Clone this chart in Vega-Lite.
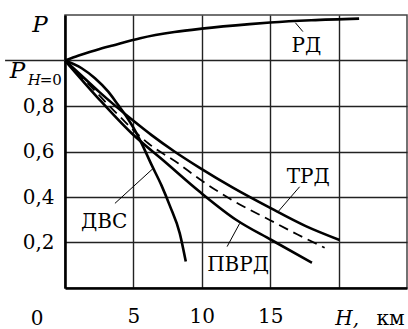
{
  "$schema": "https://vega.github.io/schema/vega-lite/v6.json",
  "width": 342,
  "height": 273,
  "autosize": "none",
  "padding": {"left": 65, "top": 15, "right": 1, "bottom": 41},
  "background": "white",
  "config": {
    "view": {"stroke": "#444", "strokeWidth": 1.5}
  },
  "datasets": {
    "curves": [
      {"series": "РД", "h": 0, "p": 1.0},
      {"series": "РД", "h": 1, "p": 1.022},
      {"series": "РД", "h": 2.3, "p": 1.046},
      {"series": "РД", "h": 3.5, "p": 1.066},
      {"series": "РД", "h": 5.5, "p": 1.098},
      {"series": "РД", "h": 8, "p": 1.125},
      {"series": "РД", "h": 10, "p": 1.14},
      {"series": "РД", "h": 13.5, "p": 1.16},
      {"series": "РД", "h": 15, "p": 1.167},
      {"series": "РД", "h": 18, "p": 1.177},
      {"series": "РД", "h": 21.5, "p": 1.184},
      {"series": "ДВС", "h": 0, "p": 1.0},
      {"series": "ДВС", "h": 1.22, "p": 0.966},
      {"series": "ДВС", "h": 2.19, "p": 0.922},
      {"series": "ДВС", "h": 3.16, "p": 0.863},
      {"series": "ДВС", "h": 3.89, "p": 0.804},
      {"series": "ДВС", "h": 4.5, "p": 0.753},
      {"series": "ДВС", "h": 5.0, "p": 0.705},
      {"series": "ДВС", "h": 5.6, "p": 0.636},
      {"series": "ДВС", "h": 6.33, "p": 0.541},
      {"series": "ДВС", "h": 7.06, "p": 0.45},
      {"series": "ДВС", "h": 7.66, "p": 0.362},
      {"series": "ДВС", "h": 8.39, "p": 0.24},
      {"series": "ДВС", "h": 8.83, "p": 0.116},
      {"series": "ТРД", "h": 0, "p": 1.0},
      {"series": "ТРД", "h": 1, "p": 0.945},
      {"series": "ТРД", "h": 2.5, "p": 0.862},
      {"series": "ТРД", "h": 5, "p": 0.735},
      {"series": "ТРД", "h": 6.33, "p": 0.672},
      {"series": "ТРД", "h": 8, "p": 0.6},
      {"series": "ТРД", "h": 9.85, "p": 0.528},
      {"series": "ТРД", "h": 12.3, "p": 0.44},
      {"series": "ТРД", "h": 15, "p": 0.352},
      {"series": "ТРД", "h": 17.6, "p": 0.272},
      {"series": "ТРД", "h": 20.07, "p": 0.211},
      {"series": "ПВРД", "h": 0, "p": 1.0},
      {"series": "ПВРД", "h": 2.43, "p": 0.834},
      {"series": "ПВРД", "h": 4.87, "p": 0.68},
      {"series": "ПВРД", "h": 7.3, "p": 0.555},
      {"series": "ПВРД", "h": 9.85, "p": 0.423},
      {"series": "ПВРД", "h": 12.53, "p": 0.299},
      {"series": "ПВРД", "h": 15.09, "p": 0.211},
      {"series": "ПВРД", "h": 18.05, "p": 0.111}
    ],
    "dashed": [
      {"series": "штрих", "h": 0, "p": 1.0},
      {"series": "штрих", "h": 1.5, "p": 0.91},
      {"series": "штрих", "h": 3.65, "p": 0.775},
      {"series": "штрих", "h": 6.08, "p": 0.636},
      {"series": "штрих", "h": 8.27, "p": 0.548},
      {"series": "штрих", "h": 9.8, "p": 0.48},
      {"series": "штрих", "h": 12.4, "p": 0.38},
      {"series": "штрих", "h": 14.96, "p": 0.299},
      {"series": "штрих", "h": 17, "p": 0.235},
      {"series": "штрих", "h": 18.98, "p": 0.177}
    ],
    "leaders": [
      {"h": 16.84, "p": 1.166, "h2": 17.39, "p2": 1.127},
      {"h": 17.15, "p": 0.445, "h2": 15.57, "p2": 0.335},
      {"h": 12.77, "p": 0.284, "h2": 11.85, "p2": 0.182},
      {"h": 3.65, "p": 0.372, "h2": 6.45, "p2": 0.526}
    ],
    "fracline": [{"h": -4.38, "p": 1.0, "h2": 0}],
    "labels22": [
      {"t": "РД", "h": 17.64, "p": 1.039},
      {"t": "ТРД", "h": 17.78, "p": 0.46},
      {"t": "ПВРД", "h": 12.65, "p": 0.076},
      {"t": "ДВС", "h": 2.86, "p": 0.262},
      {"t": "0", "h": -2.04, "p": -0.163},
      {"t": "км", "h": 23.8, "p": -0.163}
    ],
    "italic22": [{"t": "H,", "h": 20.63, "p": -0.163}],
    "italic25": [
      {"t": "P", "h": -1.82, "p": 1.127},
      {"t": "P", "h": -3.47, "p": 0.923}
    ],
    "italic17": [{"t": "H", "h": -2.25, "p": 0.892}],
    "upright17": [{"t": "=0", "h": -1.04, "p": 0.892}]
  },
  "encoding": {
    "x": {
      "field": "h", "type": "quantitative",
      "scale": {"domain": [0, 25], "nice": false, "zero": false},
      "axis": {
        "title": null, "values": [5, 10, 15, 20],
        "labelExpr": "datum.value == 20 ? '' : datum.label",
        "grid": true, "gridColor": "#222", "gridWidth": 1.4,
        "domainColor": "black", "domainWidth": 2.6,
        "ticks": false, "labelFont": "DejaVu Serif", "labelFontSize": 20,
        "labelColor": "black", "labelPadding": 18
      }
    },
    "y": {
      "field": "p", "type": "quantitative",
      "scale": {"domain": [0, 1.2], "nice": false, "zero": false},
      "axis": {
        "title": null, "values": [0.2, 0.4, 0.6, 0.8, 1.0],
        "labelExpr": "datum.value >= 0.99 ? '' : replace(format(datum.value, '.1f'), '.', ',')",
        "grid": true, "gridColor": "#222", "gridWidth": 1.4,
        "domainColor": "black", "domainWidth": 2.6,
        "ticks": false, "labelFont": "DejaVu Serif", "labelFontSize": 20,
        "labelColor": "black", "labelPadding": 11
      }
    }
  },
  "layer": [
    {
      "data": {"name": "curves"},
      "mark": {"type": "line", "interpolate": "monotone", "color": "black", "strokeWidth": 2.6},
      "encoding": {"detail": {"field": "series"}}
    },
    {
      "data": {"name": "dashed"},
      "mark": {"type": "line", "interpolate": "monotone", "color": "black", "strokeWidth": 1.8, "strokeDash": [10, 6]},
      "encoding": {}
    },
    {
      "data": {"name": "leaders"},
      "mark": {"type": "rule", "color": "black", "strokeWidth": 1},
      "encoding": {"x2": {"field": "h2"}, "y2": {"field": "p2"}}
    },
    {
      "data": {"name": "fracline"},
      "mark": {"type": "rule", "color": "#222", "strokeWidth": 1.5},
      "encoding": {"x2": {"field": "h2"}}
    },
    {
      "data": {"name": "labels22"},
      "mark": {"type": "text", "font": "DejaVu Serif", "color": "black", "fontSize": 20, "align": "center", "baseline": "alphabetic"},
      "encoding": {"text": {"field": "t"}}
    },
    {
      "data": {"name": "italic22"},
      "mark": {"type": "text", "font": "DejaVu Serif", "color": "black", "fontSize": 20, "fontStyle": "italic", "align": "center", "baseline": "alphabetic"},
      "encoding": {"text": {"field": "t"}}
    },
    {
      "data": {"name": "italic25"},
      "mark": {"type": "text", "font": "DejaVu Serif", "color": "black", "fontSize": 23, "fontStyle": "italic", "align": "center", "baseline": "alphabetic"},
      "encoding": {"text": {"field": "t"}}
    },
    {
      "data": {"name": "italic17"},
      "mark": {"type": "text", "font": "DejaVu Serif", "color": "black", "fontSize": 15, "fontStyle": "italic", "align": "center", "baseline": "alphabetic"},
      "encoding": {"text": {"field": "t"}}
    },
    {
      "data": {"name": "upright17"},
      "mark": {"type": "text", "font": "DejaVu Serif", "color": "black", "fontSize": 15, "align": "center", "baseline": "alphabetic"},
      "encoding": {"text": {"field": "t"}}
    }
  ]
}
